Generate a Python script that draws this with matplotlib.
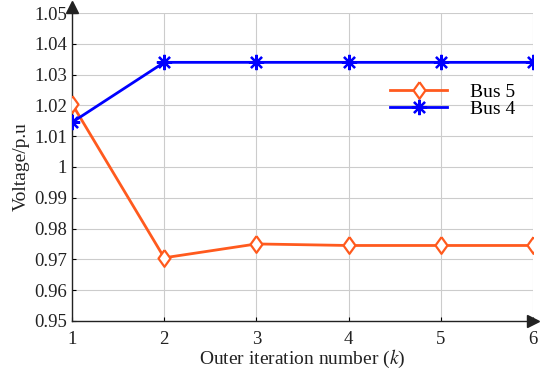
import matplotlib
matplotlib.use("Agg")
import matplotlib.pyplot as plt

iterations = [1, 2, 3, 4, 5, 6]
bus5 = [1.0205, 0.9705, 0.975, 0.9745, 0.9745, 0.9745]
bus4 = [1.0145, 1.034, 1.034, 1.034, 1.034, 1.034]
yticks = [0.95, 0.96, 0.97, 0.98, 0.99, 1.0, 1.01, 1.02, 1.03, 1.04, 1.05]
ytick_labels = ["0.95", "0.96", "0.97", "0.98", "0.99", "1", "1.01", "1.02", "1.03", "1.04", "1.05"]

plt.rcParams["font.family"] = ["Liberation Serif", "DejaVu Serif"]
plt.rcParams["mathtext.fontset"] = "stix"

fig = plt.figure(figsize=(5.5, 3.74), dpi=100)
ax = fig.add_axes([0.131, 0.142, 0.838, 0.823])

diamond = [(0, 1), (0.72, 0), (0, -1), (-0.72, 0), (0, 1)]
ax.plot(iterations, bus5, color="#ff5a1e", lw=2.0, marker=diamond, ms=12,
        mfc="white", mec="#ff5a1e", mew=1.6, label="Bus 5", zorder=3)
ax.plot(iterations, bus4, color="#0000ff", lw=2.0, marker=(8, 2, 0), ms=11,
        mew=1.6, label="Bus 4", zorder=3)

ax.set_xlim(1, 6)
ax.set_ylim(0.95, 1.05)
ax.set_xticks(iterations)
ax.set_yticks(yticks)
ax.set_yticklabels(ytick_labels)
ax.tick_params(direction="in", length=3, labelsize=13.5, width=0.8,
               labelcolor="#222222")
ax.tick_params(axis="x", pad=7)
ax.grid(True, color="#cccccc", lw=0.8)

for s in ["top", "right"]:
    ax.spines[s].set_visible(False)
for s in ["left", "bottom"]:
    ax.spines[s].set_linewidth(1.0)
    ax.spines[s].set_color("#222222")

# axis arrows
ax.plot([0, 0], [1.0, 1.02], color="#222222", lw=1.0, transform=ax.transAxes, clip_on=False)
ax.plot(0, 1.02, marker="^", color="#222222", ms=8, transform=ax.transAxes, clip_on=False)
ax.plot(1.0, 0, marker=">", color="#222222", ms=8, transform=ax.transAxes, clip_on=False)

ax.set_xlabel("Outer iteration number ($k$)", fontsize=14, labelpad=0, color="#222222")
ax.set_ylabel("Voltage/p.u", fontsize=14, labelpad=3, color="#222222")

ax.legend(loc="upper right", bbox_to_anchor=(1.0, 0.83), frameon=False,
          fontsize=14, handlelength=2.9, labelspacing=0.0, handletextpad=1.2)

fig.savefig("out.png", dpi=100)
